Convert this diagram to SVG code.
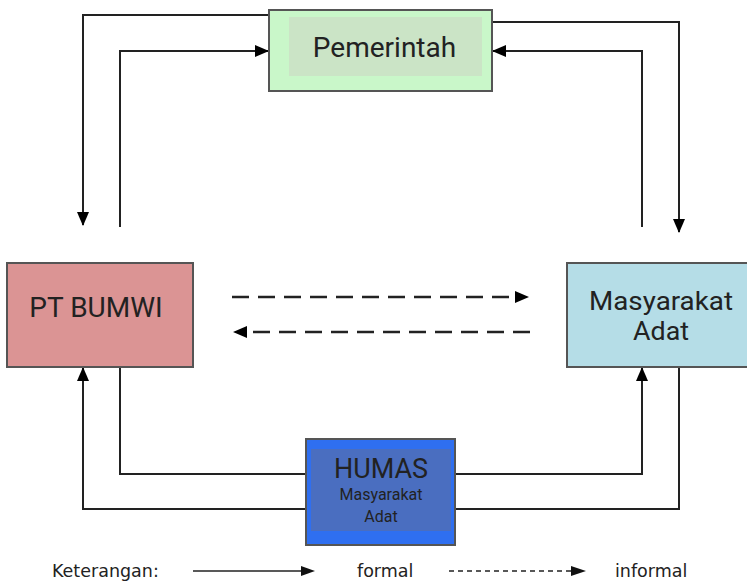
<svg xmlns="http://www.w3.org/2000/svg" width="747" height="583" viewBox="0 0 747 583">
<style>
.box{stroke:#555;stroke-width:2}
.lbl{font-family:Roboto,"Liberation Sans",sans-serif;fill:#222;text-anchor:middle}
.c{fill:none;stroke:#222;stroke-width:2}
.d{fill:none;stroke:#222;stroke-width:2.5;stroke-dasharray:17,9}
.leg{font-family:"DejaVu Sans","Liberation Sans",sans-serif;font-size:17.5px;fill:#222}
</style>
<defs>
<marker id="ah" viewBox="0 0 14 12" refX="13" refY="6" markerWidth="14" markerHeight="12" markerUnits="userSpaceOnUse" orient="auto">
<path d="M0,0 L14,6 L0,12 Z" fill="#000"/>
</marker>
</defs>
<g id="connectors">
<path class="c" d="M269,15 H83 V225" marker-end="url(#ah)"/>
<path class="c" d="M120,227 V51 H268" marker-end="url(#ah)"/>
<path class="c" d="M492,22 H679 V232" marker-end="url(#ah)"/>
<path class="c" d="M642,227 V51 H493" marker-end="url(#ah)"/>
<path class="c" d="M120,367 V474 H306"/>
<path class="c" d="M306,509 H83 V368" marker-end="url(#ah)"/>
<path class="c" d="M455,474 H642 V368" marker-end="url(#ah)"/>
<path class="c" d="M455,509 H679 V367"/>
<path class="d" d="M232,297 H516"/>
<path d="M515,291 L529,297 L515,303 Z" fill="#000"/>
<path class="d" d="M530,332 H248"/>
<path d="M247,326 L233,332 L247,338 Z" fill="#000"/>
</g>
<g id="pemerintah">
<rect class="box" x="269" y="10" width="223" height="81" fill="#c9f7c9"/>
<rect x="289" y="17" width="193" height="59" fill="#cbe4c6"/>
<text class="lbl" x="384.5" y="57" font-size="28">Pemerintah</text>
</g>
<g id="ptbumwi">
<rect class="box" x="7" y="263" width="186" height="104" fill="#db9494"/>
<text class="lbl" x="96" y="317" font-size="28">PT BUMWI</text>
</g>
<g id="masyarakat">
<rect class="box" x="567" y="263" width="185" height="104" fill="#b5dde7"/>
<text class="lbl" x="661" y="310" font-size="26" textLength="144" lengthAdjust="spacingAndGlyphs">Masyarakat</text>
<text class="lbl" x="661" y="340" font-size="26" textLength="56" lengthAdjust="spacingAndGlyphs">Adat</text>
</g>
<g id="humas">
<rect class="box" x="306" y="439" width="149" height="106" fill="#2f6ff0"/>
<rect x="311" y="449" width="140" height="82" fill="#4a6ec0"/>
<text class="lbl" x="381" y="478" font-size="27">HUMAS</text>
<text class="lbl" x="381" y="500" font-size="16">Masyarakat</text>
<text class="lbl" x="381" y="522" font-size="16">Adat</text>
</g>
<g id="legend">
<text class="leg" x="52" y="577">Keterangan:</text>
<path d="M193,571 H303" stroke="#222" stroke-width="1.3"/>
<path d="M301,566 L315,571 L301,576 Z" fill="#111"/>
<text class="leg" x="357" y="577">formal</text>
<path d="M449,571 H573" stroke="#222" stroke-width="1.3" stroke-dasharray="5,4"/>
<path d="M571,566 L586,571 L571,576 Z" fill="#111"/>
<text class="leg" x="615" y="577">informal</text>
</g>
</svg>
